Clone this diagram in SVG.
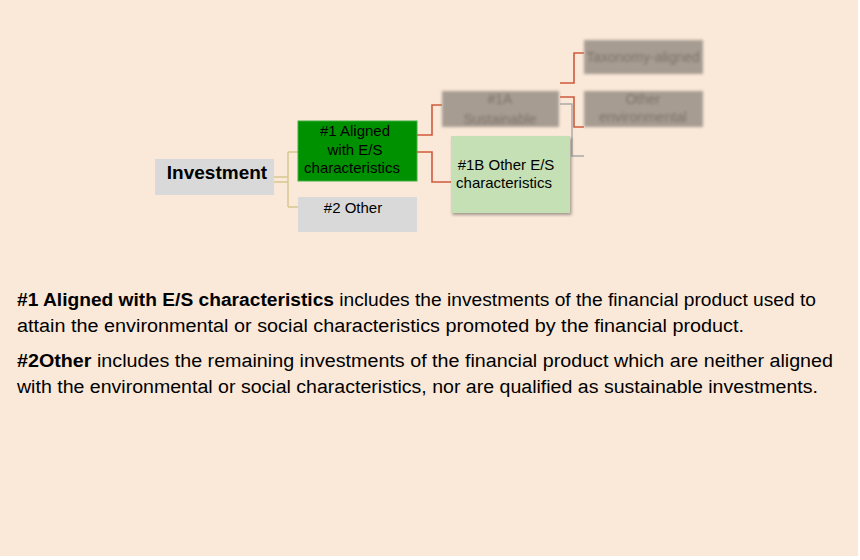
<svg xmlns="http://www.w3.org/2000/svg" width="860" height="560" viewBox="0 0 860 560">
<defs>
<filter id="blur" x="-10%" y="-20%" width="120%" height="140%"><feGaussianBlur stdDeviation="1.6"/></filter>
<filter id="shadow" x="-10%" y="-10%" width="125%" height="125%"><feDropShadow dx="1.5" dy="2" stdDeviation="1.5" flood-color="#000" flood-opacity="0.35"/></filter>
</defs>
<style>
.t{font-family:"Liberation Sans",Arial,sans-serif;fill:#000}
.n{font-size:15px;text-anchor:middle}
.red{fill:none;stroke:#cf5a3c;stroke-width:1.6}
.yel{fill:none;stroke:#d6c78e;stroke-width:1.4}
.gry{fill:none;stroke:#a9a9a9;stroke-width:1.4}
.blurbox{fill:#a79c92}
.bt{font-family:"Liberation Sans",Arial,sans-serif;font-size:14px;fill:#7a6f66;text-anchor:middle}
.body{font-family:"Liberation Sans",Arial,sans-serif;font-size:18px;fill:#000}
</style>
<rect x="0" y="0" width="858" height="556" fill="#fae8d8"/>
<rect x="858" y="0" width="2" height="560" fill="#fff"/>
<rect x="0" y="556" width="860" height="4" fill="#fff"/>

<g id="connectors">
<path class="yel" d="M274 177H288M274 182H288M288 152V207M288 152H298M288 207H298"/>
<path class="red" d="M417 135H432V105H442M417 152H432V182H451"/>
<path class="red" d="M560 83H574V53H584M560 97H574V127H584"/>
<path class="gry" d="M560 104H572V156H584"/>
</g>

<g id="investment">
<rect x="155" y="159" width="119" height="36" fill="#d9d9d9"/>
<text class="t" x="217" y="179" font-size="19" font-weight="bold" text-anchor="middle">Investment</text>
</g>

<g id="aligned">
<rect x="298" y="121" width="119" height="60" fill="#009100" stroke="#3fae3f" stroke-width="1"/>
<text class="t n" x="355" y="136">#1 Aligned</text>
<text class="t n" x="355" y="155">with E/S</text>
<text class="t n" x="352" y="173">characteristics</text>
</g>

<g id="other">
<rect x="298" y="197" width="119" height="35" fill="#d9d9d9"/>
<text class="t n" x="353" y="213">#2 Other</text>
</g>

<g id="sustainable" filter="url(#blur)">
<rect class="blurbox" x="442" y="91" width="117" height="36"/>
<text class="bt" x="500" y="104">#1A</text>
<text class="bt" x="500" y="124">Sustainable</text>
</g>

<g id="otheres">
<rect x="451" y="136" width="119" height="77" fill="#c5e0b4" filter="url(#shadow)"/>
<text class="t n" x="506" y="170">#1B Other E/S</text>
<text class="t n" x="504" y="188">characteristics</text>
</g>

<g id="taxonomy" filter="url(#blur)">
<rect class="blurbox" x="584" y="40" width="119" height="34"/>
<text class="bt" x="643" y="62">Taxonomy-aligned</text>
</g>

<g id="otherenv" filter="url(#blur)">
<rect class="blurbox" x="584" y="91" width="119" height="36"/>
<text class="bt" x="643" y="104">Other</text>
<text class="bt" x="643" y="122">environmental</text>
</g>

<g id="text">
<text class="body" x="17" y="306" textLength="799" lengthAdjust="spacingAndGlyphs"><tspan font-weight="bold">#1 Aligned with E/S characteristics</tspan> includes the investments of the financial product used to</text>
<text class="body" x="17" y="332" textLength="727" lengthAdjust="spacingAndGlyphs">attain the environmental or social characteristics promoted by the financial product.</text>
<text class="body" x="17" y="367" textLength="816" lengthAdjust="spacingAndGlyphs"><tspan font-weight="bold">#2Other</tspan> includes the remaining investments of the financial product which are neither aligned</text>
<text class="body" x="17" y="393" textLength="801" lengthAdjust="spacingAndGlyphs">with the environmental or social characteristics, nor are qualified as sustainable investments.</text>
</g>
</svg>
